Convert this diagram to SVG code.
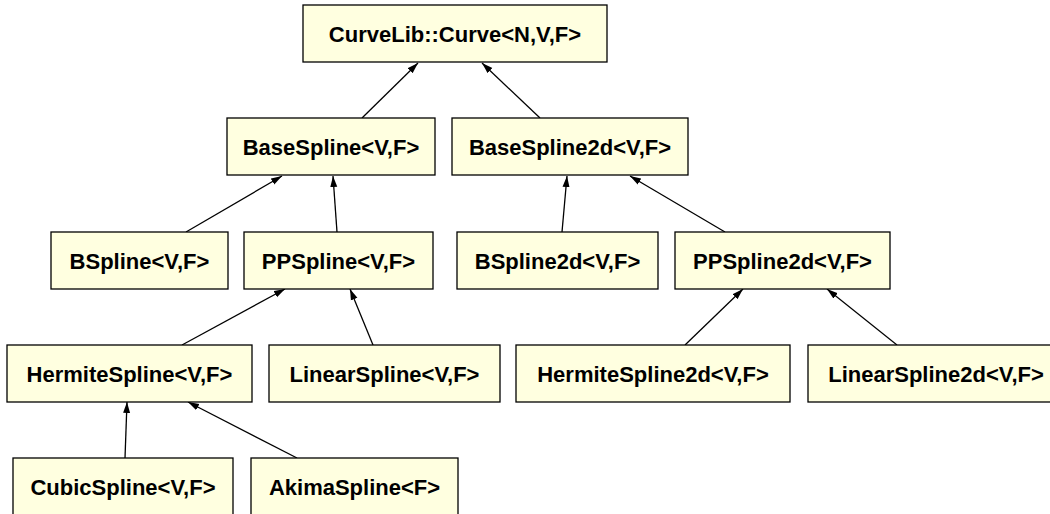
<svg xmlns="http://www.w3.org/2000/svg" width="1050" height="514" viewBox="0 0 1050 514">
<style>
.n rect{fill:#ffffe0;stroke:#000;stroke-width:1.3}
.n text{font-family:"Liberation Sans",Arial,sans-serif;font-weight:bold;font-size:22px;text-anchor:middle;fill:#000}
.e line{stroke:#000;stroke-width:1.3;fill:none;marker-end:url(#ah)}
</style>
<defs>
<marker id="ah" markerUnits="userSpaceOnUse" markerWidth="12" markerHeight="8" refX="11" refY="4" orient="auto">
<path d="M0,0.5 L11,4 L0,7.5 z" fill="#000"/>
</marker>
</defs>
<rect width="1050" height="514" fill="#fff"/>
<g class="e" id="connectors">
<line x1="362" y1="118" x2="418" y2="63"/>
<line x1="540" y1="118" x2="482" y2="63"/>
<line x1="186" y1="232" x2="282" y2="176"/>
<line x1="337" y1="232" x2="333" y2="176"/>
<line x1="562" y1="232" x2="567" y2="176"/>
<line x1="725" y1="232" x2="630" y2="176"/>
<line x1="182" y1="345" x2="285" y2="289"/>
<line x1="373" y1="345" x2="350" y2="289"/>
<line x1="685" y1="345" x2="743" y2="289"/>
<line x1="897" y1="345" x2="827" y2="289"/>
<line x1="125" y1="458" x2="127" y2="402"/>
<line x1="297" y1="458" x2="188" y2="402"/>
</g>
<g class="n" id="curve"><rect x="303" y="5" width="304" height="57"/><text x="455" y="41.5">CurveLib::Curve&lt;N,V,F&gt;</text></g>
<g class="n" id="basespline"><rect x="227" y="118" width="208" height="57"/><text x="331" y="154.5">BaseSpline&lt;V,F&gt;</text></g>
<g class="n" id="basespline2d"><rect x="452" y="118" width="236" height="57"/><text x="570" y="154.5">BaseSpline2d&lt;V,F&gt;</text></g>
<g class="n" id="bspline"><rect x="51" y="232" width="177" height="57"/><text x="139.5" y="268.5">BSpline&lt;V,F&gt;</text></g>
<g class="n" id="ppspline"><rect x="244" y="232" width="189" height="57"/><text x="338.5" y="268.5">PPSpline&lt;V,F&gt;</text></g>
<g class="n" id="bspline2d"><rect x="457" y="232" width="201" height="57"/><text x="557.5" y="268.5">BSpline2d&lt;V,F&gt;</text></g>
<g class="n" id="ppspline2d"><rect x="675" y="232" width="215" height="57"/><text x="782.5" y="268.5">PPSpline2d&lt;V,F&gt;</text></g>
<g class="n" id="hermitespline"><rect x="7" y="345" width="245" height="57"/><text x="129.5" y="381.5">HermiteSpline&lt;V,F&gt;</text></g>
<g class="n" id="linearspline"><rect x="269" y="345" width="231" height="57"/><text x="384.5" y="381.5">LinearSpline&lt;V,F&gt;</text></g>
<g class="n" id="hermitespline2d"><rect x="516" y="345" width="274" height="57"/><text x="653" y="381.5">HermiteSpline2d&lt;V,F&gt;</text></g>
<g class="n" id="linearspline2d"><rect x="808" y="345" width="256" height="57"/><text x="936" y="381.5">LinearSpline2d&lt;V,F&gt;</text></g>
<g class="n" id="cubicspline"><rect x="13" y="458" width="220" height="57"/><text x="123" y="494.5">CubicSpline&lt;V,F&gt;</text></g>
<g class="n" id="akimaspline"><rect x="251" y="458" width="207" height="57"/><text x="354.5" y="494.5">AkimaSpline&lt;F&gt;</text></g>
</svg>
